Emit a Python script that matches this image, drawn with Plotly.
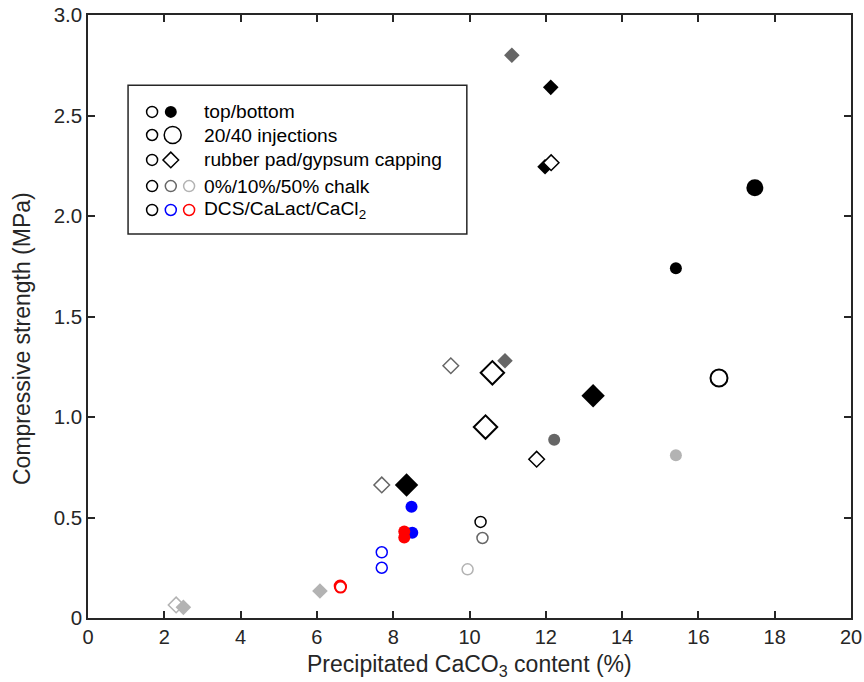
import plotly.graph_objects as go

# ---------------- data (x = precipitated CaCO3 %, y = compressive strength MPa) -------------
# circles
blk_open_small_x = [10.29];          blk_open_small_y = [0.478]
blk_fill_small_x = [15.41];          blk_fill_small_y = [1.74]
blk_fill_large_x = [17.48];          blk_fill_large_y = [2.14]
blk_open_large_x = [16.54];          blk_open_large_y = [1.194]
dgr_fill_small_x = [12.22];          dgr_fill_small_y = [0.887]
dgr_open_small_x = [10.34];          dgr_open_small_y = [0.398]
lgr_fill_small_x = [15.41];          lgr_fill_small_y = [0.81]
lgr_open_small_x = [9.95];           lgr_open_small_y = [0.242]
blu_fill_small_x = [8.48, 8.50];     blu_fill_small_y = [0.554, 0.424]
blu_open_small_x = [7.70, 7.70];     blu_open_small_y = [0.327, 0.25]
red_fill_small_x = [8.29, 8.29];     red_fill_small_y = [0.43, 0.40]
red_open_small_x = [6.61, 6.62];     red_open_small_y = [0.159, 0.154]
# diamonds
blk_dfill_small_x = [12.13, 11.98];  blk_dfill_small_y = [2.64, 2.245]
blk_dopen_small_x = [12.14, 11.76];  blk_dopen_small_y = [2.265, 0.79]
blk_dfill_large_x = [13.24, 8.35];   blk_dfill_large_y = [1.106, 0.662]
blk_dopen_large_x = [10.60, 10.42];  blk_dopen_large_y = [1.22, 0.95]
dgr_dfill_small_x = [11.11, 10.93];  dgr_dfill_small_y = [2.80, 1.28]
dgr_dopen_small_x = [9.51, 7.70];    dgr_dopen_small_y = [1.255, 0.662]
lgr_dfill_small_x = [6.08, 2.50];    lgr_dfill_small_y = [0.134, 0.053]
lgr_dopen_small_x = [2.31];          lgr_dopen_small_y = [0.065]

x_ticks = [0, 2, 4, 6, 8, 10, 12, 14, 16, 18, 20]
y_ticks = [0, 0.5, 1.0, 1.5, 2.0, 2.5, 3.0]
y_ticktext = ["0", "0.5", "1.0", "1.5", "2.0", "2.5", "3.0"]

x_title = "Precipitated CaCO<sub>3</sub> content (%)"
y_title = "Compressive strength (MPa)"
legend_labels = ["top/bottom", "20/40 injections", "rubber pad/gypsum capping",
                 "0%/10%/50% chalk", "DCS/CaLact/CaCl<sub>2</sub>"]

BLACK = "#000000"
DGRAY = "#666666"
LGRAY = "#b3b3b3"
BLUE = "#0000ff"
RED = "#ff0000"
AX = "#262626"
FONT = "Arial, Liberation Sans, Helvetica, sans-serif"

SMALL_C, LARGE_C = 12, 17
SMALL_D, LARGE_D = 12, 18

fig = go.Figure()


def add(x, y, color, symbol, filled, size, lw=1.5):
    fig.add_trace(go.Scatter(
        x=x, y=y, mode="markers", showlegend=False, hoverinfo="skip",
        marker=dict(symbol=symbol, size=size,
                    color=color if filled else "white",
                    line=dict(color=color, width=0 if filled else lw))))


# drawing order
add(lgr_dopen_small_x, lgr_dopen_small_y, LGRAY, "diamond", False, SMALL_D)
add(lgr_dfill_small_x, lgr_dfill_small_y, LGRAY, "diamond", True, SMALL_D)
add(dgr_dfill_small_x, dgr_dfill_small_y, DGRAY, "diamond", True, SMALL_D)
add(dgr_dopen_small_x, dgr_dopen_small_y, DGRAY, "diamond", False, SMALL_D)
add(blk_dfill_small_x, blk_dfill_small_y, BLACK, "diamond", True, SMALL_D)
add(blk_dopen_small_x, blk_dopen_small_y, BLACK, "diamond", False, SMALL_D)
add(blk_dfill_large_x, blk_dfill_large_y, BLACK, "diamond", True, LARGE_D)
add(blk_dopen_large_x, blk_dopen_large_y, BLACK, "diamond", False, LARGE_D, 2)

add(blk_open_small_x, blk_open_small_y, BLACK, "circle", False, SMALL_C - 1)
add(blk_fill_small_x, blk_fill_small_y, BLACK, "circle", True, SMALL_C)
add(blk_fill_large_x, blk_fill_large_y, BLACK, "circle", True, LARGE_C)
add(blk_open_large_x, blk_open_large_y, BLACK, "circle", False, LARGE_C, 2)
add(dgr_fill_small_x, dgr_fill_small_y, DGRAY, "circle", True, SMALL_C)
add(dgr_open_small_x, dgr_open_small_y, DGRAY, "circle", False, SMALL_C - 1)
add(lgr_fill_small_x, lgr_fill_small_y, LGRAY, "circle", True, SMALL_C)
add(lgr_open_small_x, lgr_open_small_y, LGRAY, "circle", False, SMALL_C - 1)
add(blu_open_small_x, blu_open_small_y, BLUE, "circle", False, SMALL_C - 1)
add(blu_fill_small_x, blu_fill_small_y, BLUE, "circle", True, SMALL_C)
add(red_open_small_x, red_open_small_y, RED, "circle", False, SMALL_C - 1, 2)
add(red_fill_small_x, red_fill_small_y, RED, "circle", True, SMALL_C)

# ---------------- custom legend box (in data units) ----------------
leg_x0, leg_x1, leg_y0, leg_y1 = 1.05, 9.93, 1.91, 2.65
leg_cols = [1.68, 2.17, 2.65]
leg_rows = [2.518, 2.403, 2.279, 2.149, 2.03]
leg_text_x = 3.0

fig.add_shape(type="rect", xref="x", yref="y", x0=leg_x0, x1=leg_x1, y0=leg_y0, y1=leg_y1,
              line=dict(color=AX, width=1.5), fillcolor="white", layer="below")

legend_rows = [
    [(BLACK, "circle", False, SMALL_C - 1), (BLACK, "circle", True, SMALL_C)],
    [(BLACK, "circle", False, SMALL_C - 1), (BLACK, "circle", False, LARGE_C)],
    [(BLACK, "circle", False, SMALL_C - 1), (BLACK, "diamond", False, SMALL_D)],
    [(BLACK, "circle", False, SMALL_C - 1), (DGRAY, "circle", False, SMALL_C - 1),
     (LGRAY, "circle", False, SMALL_C - 1)],
    [(BLACK, "circle", False, SMALL_C - 1), (BLUE, "circle", False, SMALL_C - 1),
     (RED, "circle", False, SMALL_C - 1)],
]
for ry, row, label in zip(leg_rows, legend_rows, legend_labels):
    for cx, (col, sym, filled, sz) in zip(leg_cols, row):
        cxx = cx + (0.05 if sz == LARGE_C else 0)
        fig.add_trace(go.Scatter(
            x=[cxx], y=[ry], mode="markers", showlegend=False, hoverinfo="skip",
            marker=dict(symbol=sym, size=sz, color=col if filled else "white",
                        line=dict(color=col, width=0 if filled else 1.5))))
    fig.add_annotation(x=leg_text_x, y=ry, xref="x", yref="y", text=label, showarrow=False,
                       xanchor="left", yanchor="middle",
                       font=dict(family=FONT, size=19.2, color="#000000"))

# axis titles as annotations (precise placement)
fig.add_annotation(x=0.5, y=-0.078, xref="paper", yref="paper", text=x_title,
                   showarrow=False, xanchor="center", yanchor="middle",
                   font=dict(family=FONT, size=23, color=AX))
fig.add_annotation(x=-0.0865, y=0.4627, xref="paper", yref="paper", text=y_title,
                   showarrow=False, textangle=-90, xanchor="center", yanchor="middle",
                   font=dict(family=FONT, size=23, color=AX))

fig.update_layout(
    width=864, height=682,
    margin=dict(l=88, r=13, t=15, b=64, autoexpand=False),
    paper_bgcolor="white", plot_bgcolor="white",
    font=dict(family=FONT, size=20, color=AX),
)
fig.update_xaxes(
    range=[0, 20], tickvals=x_ticks, showgrid=False, zeroline=False, automargin=False,
    showline=True, linecolor=AX, linewidth=1.5, mirror="allticks",
    ticks="inside", ticklen=7, tickwidth=1.5, tickcolor=AX, ticklabeloverflow="allow",
    tickfont=dict(family=FONT, size=20, color=AX),
)
fig.update_yaxes(
    range=[0, 3.0], tickvals=y_ticks, ticktext=y_ticktext, showgrid=False, zeroline=False,
    automargin=False,
    showline=True, linecolor=AX, linewidth=1.5, mirror="allticks",
    ticks="inside", ticklen=7, tickwidth=1.5, tickcolor=AX, ticklabeloverflow="allow",
    tickfont=dict(family=FONT, size=20.5, color=AX),
)

# remove the browser's default 8px body margin so the figure fills the window exactly
fig.write_html("out.html", config={"displayModeBar": False},
               post_script="document.body.style.margin='0';document.body.style.overflow='hidden';")
